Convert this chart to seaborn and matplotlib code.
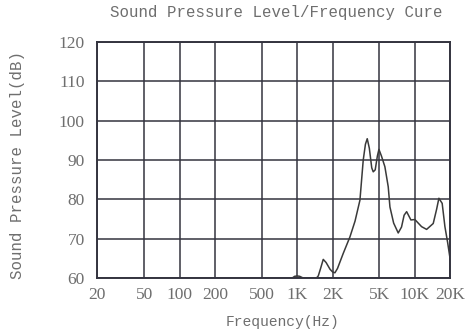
import matplotlib
matplotlib.use("Agg")
import matplotlib.pyplot as plt
import seaborn as sns
import pandas as pd
from matplotlib.ticker import FixedLocator, NullLocator

# ---- data ----
freq_hz = [900, 950, 1000, 1050, 1100, 1150, 1300, 1450, 1510, 1580, 1664, 1760,
           1900, 2000, 2091, 2200, 2460, 2806, 3100, 3412, 3640, 3800, 3936, 4100,
           4300, 4426, 4600, 4800, 4948, 5200, 5560, 5937, 6137, 6600, 7218, 7700,
           8100, 8510, 9250, 10000, 11400, 12580, 14320, 15300, 16000, 17060,
           18000, 19000, 20000]
spl_db = [60.0, 60.5, 60.6, 60.5, 60.2, 60.0, 60.0, 60.0, 60.6, 62.5, 64.8, 64.0,
          62.3, 61.6, 61.4, 62.5, 66.3, 70.5, 74.5, 79.8, 90.0, 94.0, 95.4, 93.0,
          88.0, 87.0, 87.5, 91.0, 92.7, 91.0, 88.3, 83.2, 78.1, 74.0, 71.5, 73.0,
          76.0, 76.9, 74.8, 74.9, 73.1, 72.4, 73.9, 77.5, 80.3, 79.0, 73.1, 69.0,
          64.6]

x_ticks = [20, 50, 100, 200, 500, 1000, 2000, 5000, 10000, 20000]
x_tick_labels = ["20", "50", "100", "200", "500", "1K", "2K", "5K", "10K", "20K"]
y_ticks = [60, 70, 80, 90, 100, 110, 120]

title = "Sound Pressure Level/Frequency Cure"
x_label = "Frequency(Hz)"
y_label = "Sound Pressure Level(dB)"

df = pd.DataFrame({"freq": freq_hz, "spl": spl_db})

sns.set_style("white")
plt.rcParams["font.family"] = ["Liberation Mono", "DejaVu Sans"]

txt = "#6e6e6e"
gridc = "#34343f"

fig = plt.figure(figsize=(4.73, 3.35), dpi=100)
ax = fig.add_axes([97.3 / 473, 1 - 278.3 / 335, (450.3 - 97.3) / 473, (278.3 - 41.7) / 335])

sns.lineplot(data=df, x="freq", y="spl", ax=ax, color="#3a3a3a", linewidth=1.1,
             estimator=None, sort=False)

ax.set_xscale("log")
ax.set_xlim(20, 20000)
ax.set_ylim(60, 120)
ax.xaxis.set_major_locator(FixedLocator(x_ticks))
ax.xaxis.set_minor_locator(NullLocator())
ax.set_xticklabels(x_tick_labels)
ax.set_yticks(y_ticks)

ax.grid(True, which="major", color=gridc, linewidth=1.1)
ax.set_axisbelow(True)
for s in ax.spines.values():
    s.set_visible(True)
    s.set_color(gridc)
    s.set_linewidth(1.4)

ax.tick_params(axis="both", length=0, colors=txt)
ax.tick_params(axis="y", pad=9)
ax.tick_params(axis="x", pad=6)
for lab in ax.get_xticklabels() + ax.get_yticklabels():
    lab.set_fontfamily(["Liberation Serif", "DejaVu Serif"])
    lab.set_fontsize(12.5)

ax.set_xlabel(x_label, fontsize=10.5, color=txt)
ax.xaxis.set_label_coords(0.526, -0.155)
ax.set_ylabel(y_label, fontsize=11.3, color=txt)
ax.yaxis.set_label_coords(-0.205, 0.479)
fig.text(0.585, 0.962, title, ha="center", va="center", fontsize=11.3, color=txt)

fig.savefig("out.png", dpi=100, facecolor="white")
